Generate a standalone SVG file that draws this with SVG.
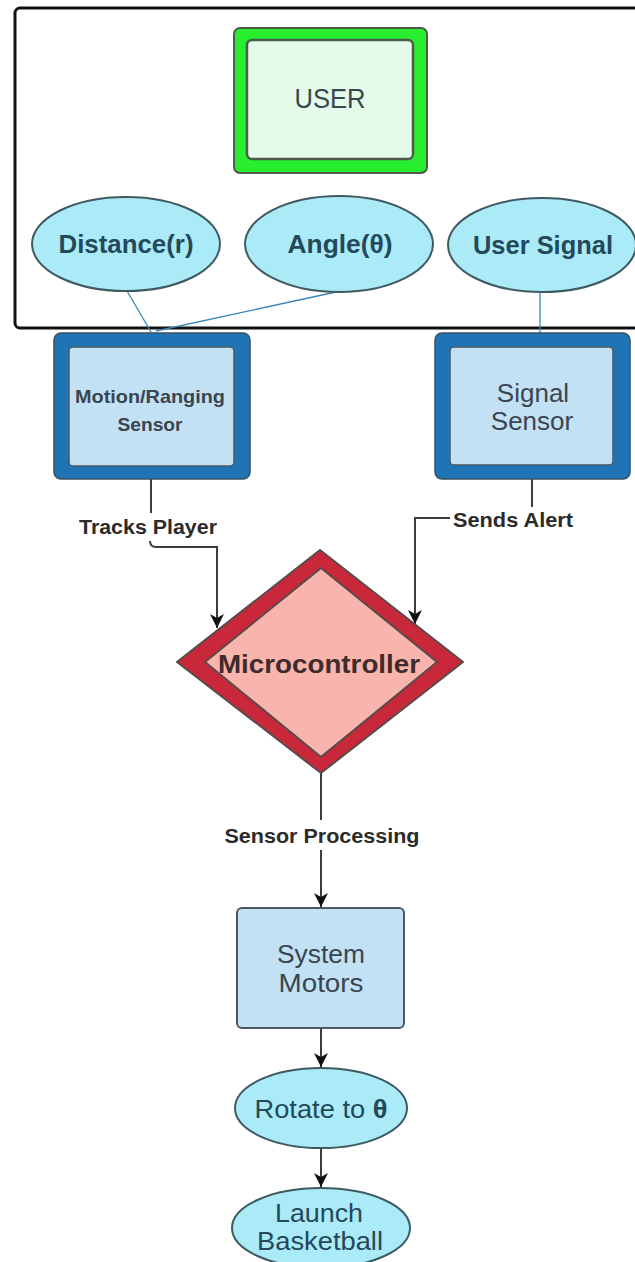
<svg xmlns="http://www.w3.org/2000/svg" width="635" height="1262" viewBox="0 0 635 1262">
  <style>
    .t { font-family: "Liberation Sans", Arial, sans-serif; text-anchor: middle; }
    .ell { fill: #abebf8; stroke: #3f5a62; stroke-width: 2; }
    .ellTxt { fill: #23495a; font-weight: bold; }
    .ellTxtR { fill: #23495a; }
    .boxTxt { fill: #3a4550; }
    .lbl { fill: #2b2b2b; font-weight: bold; }
    .con { fill: none; stroke: #3c3c3c; stroke-width: 2; }
    .blue { fill: none; stroke: #3a86b8; stroke-width: 1.3; }
  </style>
  <defs>
    <marker id="arr" markerUnits="userSpaceOnUse" markerWidth="14" markerHeight="16" viewBox="0 0 14 16" refX="14" refY="8" orient="auto">
      <path d="M0,1 L14,8 L0,15 L4,8 Z" fill="#111"/>
    </marker>
  </defs>

  <!-- outer frame -->
  <rect id="frame" x="15" y="8" width="640" height="320" rx="5" fill="#fff" stroke="#111" stroke-width="3"/>

  <g id="connectors">
    <line class="blue" x1="127" y1="291" x2="151" y2="332"/>
    <line class="blue" x1="336" y1="292" x2="156" y2="331"/>
    <line class="blue" x1="540" y1="292" x2="540" y2="333"/>
    <path class="con" d="M151,479 V513"/>
    <path class="con" d="M150,541 Q150,547 156,547 H217 V628" marker-end="url(#arr)"/>
    <path class="con" d="M532,479 V507"/>
    <path class="con" d="M450,518 H415 V624" marker-end="url(#arr)"/>
    <path class="con" d="M321,773 V820"/>
    <path class="con" d="M321,850 V907" marker-end="url(#arr)"/>
    <path class="con" d="M321,1028 V1067" marker-end="url(#arr)"/>
    <path class="con" d="M321,1147 V1187" marker-end="url(#arr)"/>
    <text class="t lbl" x="148" y="534" font-size="20" textLength="138" lengthAdjust="spacingAndGlyphs">Tracks Player</text>
    <text class="t lbl" x="513" y="527" font-size="20" textLength="120" lengthAdjust="spacingAndGlyphs">Sends Alert</text>
    <text class="t lbl" x="322" y="843" font-size="20" textLength="195" lengthAdjust="spacingAndGlyphs">Sensor Processing</text>
  </g>

  <g id="user">
    <rect x="234" y="28" width="193" height="145" rx="6" fill="#27ee2e" stroke="#4d5a4d" stroke-width="2"/>
    <rect x="247" y="40" width="166" height="119" rx="5" fill="#e3fbe8" stroke="#4d5a4d" stroke-width="2.5"/>
    <text class="t boxTxt" x="330" y="108" font-size="28" textLength="71" lengthAdjust="spacingAndGlyphs">USER</text>
  </g>

  <g id="distance">
    <ellipse class="ell" cx="126" cy="244" rx="94" ry="47"/>
    <text class="t ellTxt" x="126" y="253" font-size="26" textLength="135" lengthAdjust="spacingAndGlyphs">Distance(r)</text>
  </g>
  <g id="angle">
    <ellipse class="ell" cx="339" cy="244" rx="94" ry="48"/>
    <text class="t ellTxt" x="340" y="253" font-size="26" textLength="105" lengthAdjust="spacingAndGlyphs">Angle(θ)</text>
  </g>
  <g id="usersignal">
    <ellipse class="ell" cx="542" cy="245" rx="94" ry="47"/>
    <text class="t ellTxt" x="543" y="254" font-size="26" textLength="140" lengthAdjust="spacingAndGlyphs">User Signal</text>
  </g>

  <g id="motion">
    <rect x="54" y="333" width="196" height="146" rx="7" fill="#1f74b6" stroke="#3d5060" stroke-width="1.5"/>
    <rect x="69" y="347" width="165" height="119" rx="4" fill="#c3e1f5" stroke="#4a5a66" stroke-width="1.5"/>
    <text class="t boxTxt" x="150" y="403" font-size="19" font-weight="bold" textLength="150" lengthAdjust="spacingAndGlyphs">Motion/Ranging</text>
    <text class="t boxTxt" x="150" y="431" font-size="19" font-weight="bold" textLength="65" lengthAdjust="spacingAndGlyphs">Sensor</text>
  </g>

  <g id="signal">
    <rect x="435" y="333" width="195" height="146" rx="7" fill="#1f74b6" stroke="#3d5060" stroke-width="1.5"/>
    <rect x="450" y="347" width="163" height="118" rx="4" fill="#c3e1f5" stroke="#4a5a66" stroke-width="1.5"/>
    <text class="t boxTxt" x="533" y="402" font-size="26">Signal</text>
    <text class="t boxTxt" x="532" y="430" font-size="26">Sensor</text>
  </g>

  <g id="microcontroller">
    <polygon points="177,662 320,550 463,662 321,773" fill="#c9283b" stroke="#5a4a4a" stroke-width="2" stroke-linejoin="round"/>
    <polygon points="205,662 321,568 437,662 321,757" fill="#f9b5ad" stroke="#5a4a4a" stroke-width="2" stroke-linejoin="round"/>
    <text class="t" x="319" y="673" font-size="26" font-weight="bold" fill="#3f2b2b" textLength="202" lengthAdjust="spacingAndGlyphs">Microcontroller</text>
  </g>

  <g id="motors">
    <rect x="237" y="908" width="167" height="120" rx="5" fill="#c2e1f5" stroke="#4e5860" stroke-width="2"/>
    <text class="t boxTxt" x="321" y="963" font-size="26" textLength="88" lengthAdjust="spacingAndGlyphs">System</text>
    <text class="t boxTxt" x="321" y="992" font-size="26" textLength="85" lengthAdjust="spacingAndGlyphs">Motors</text>
  </g>

  <g id="rotate">
    <ellipse class="ell" cx="321" cy="1108" rx="86" ry="40"/>
    <text class="t ellTxtR" x="321" y="1118" font-size="25" textLength="133" lengthAdjust="spacingAndGlyphs">Rotate to <tspan font-weight="bold">θ</tspan></text>
  </g>

  <g id="launch">
    <ellipse class="ell" cx="321" cy="1228" rx="89" ry="40"/>
    <text class="t ellTxtR" x="319" y="1222" font-size="25" textLength="88" lengthAdjust="spacingAndGlyphs">Launch</text>
    <text class="t ellTxtR" x="320" y="1250" font-size="25" textLength="126" lengthAdjust="spacingAndGlyphs">Basketball</text>
  </g>
</svg>
